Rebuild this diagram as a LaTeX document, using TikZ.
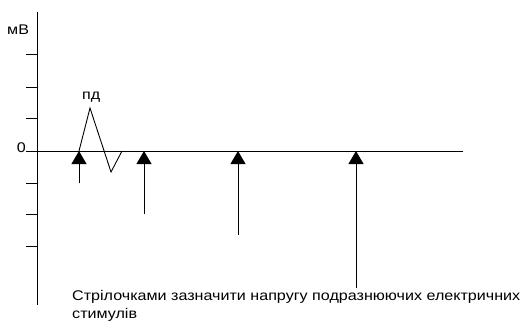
\documentclass[tikz,border=0pt]{standalone}
\usepackage{fontspec}
\setmainfont{Liberation Sans}
\newfontfamily\widefont[FakeStretch=1.15]{Liberation Sans}
\usetikzlibrary{arrows.meta}
\begin{document}
\begin{tikzpicture}[x=1pt,y=-1pt,
  axis/.style={line width=0.9pt,black},
  stim/.style={line width=0.9pt,-{Triangle[length=13pt,width=15pt]}},
  lbl/.style={font=\widefont\fontsize{14}{18}\selectfont,inner sep=0pt}]
\useasboundingbox (0,0) rectangle (521,321);
% axes
\coordinate (ytop) at (37,12);
\coordinate (ybot) at (37,305);
\coordinate (xl) at (26,151);
\coordinate (xr) at (463,151);
\draw[axis] (ytop) -- (ybot);
\draw[axis] (xl) -- (xr);
% ticks
\foreach \t/\y in {t1/54,t2/87,t3/118,t4/183,t5/214,t6/246}{
  \coordinate (\t a) at (26,\y);
  \coordinate (\t b) at (37,\y);
  \draw[axis] (\t a) -- (\t b);
}
\node[lbl,anchor=base east] (zero) at (26,152) {0};
\node[lbl,anchor=base west] (mv) at (7,35) {мВ};
% action potential
\coordinate (w0) at (79,151);
\coordinate (w1) at (90,108);
\coordinate (w2) at (111,172);
\coordinate (w3) at (122,151);
\draw[axis,line join=miter] (w0) -- (w1) -- (w2) -- (w3);
\node[lbl,anchor=base west] (pd) at (82,99) {пд};
% stimulus arrows
\foreach \n/\x/\y in {a/79/183,b/144/214,c/238/235,d/356/288}{
  \coordinate (\n s) at (\x,\y);
  \coordinate (\n e) at (\x,151);
  \draw[stim] (\n s) -- (\n e);
}
\node[lbl,anchor=base west,align=left] (note) at (72,318)
  {Стрілочками зазначити напругу подразнюючих електричних\\стимулів};
\end{tikzpicture}
\end{document}
